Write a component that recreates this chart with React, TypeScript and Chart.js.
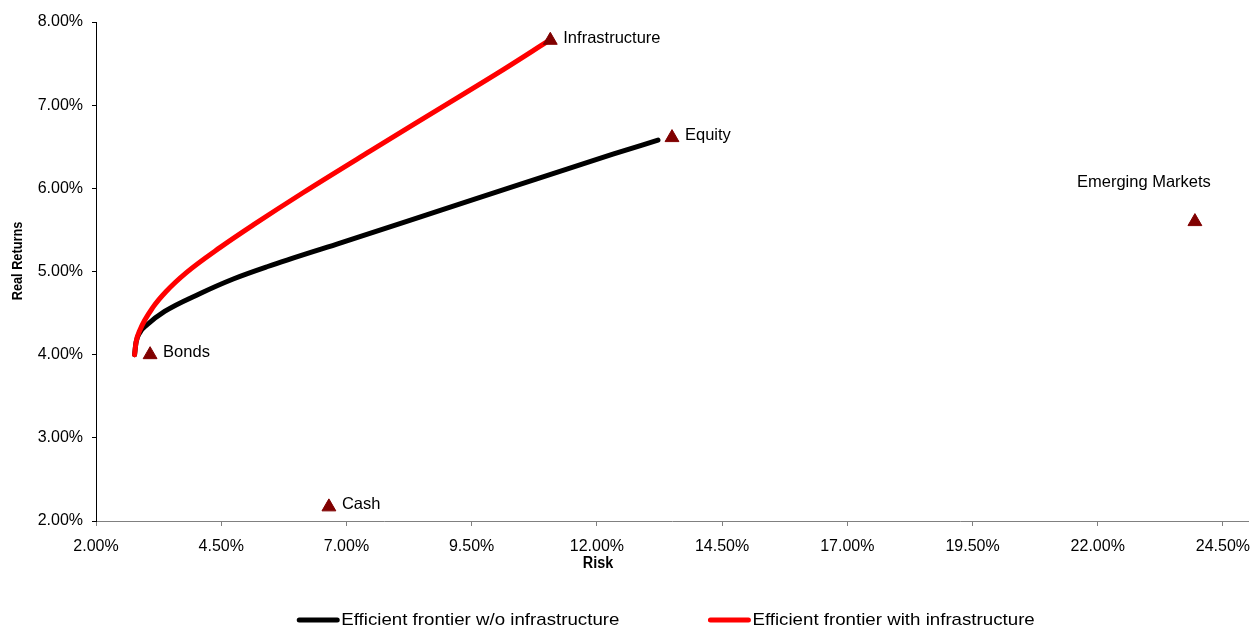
import { useEffect, useRef } from 'react';
import { Chart, registerables } from 'chart.js';

Chart.register(...registerables);

// Individual asset classes: risk (x, %) and real return (y, %)
const assetNames = ['Infrastructure', 'Equity', 'Emerging Markets', 'Bonds', 'Cash'];
const assetRisk = [11.07, 13.5, 23.94, 3.08, 6.65];
const assetReturn = [7.78, 6.61, 5.6, 4.0, 2.17];

// Efficient frontier without infrastructure
const frontierRiskWithout = [2.77, 2.8, 2.88, 3.02, 3.37, 4.06, 4.74, 5.43, 6.81, 8.19, 9.56, 10.94, 12.32, 13.22];
const frontierReturnWithout = [4.0, 4.15, 4.27, 4.36, 4.52, 4.73, 4.91, 5.06, 5.33, 5.6, 5.87, 6.14, 6.41, 6.58];

// Efficient frontier with infrastructure
const frontierRiskWith = [2.77, 2.8, 2.88, 3.15, 3.4, 3.81, 4.48, 5.14, 6.14, 7.48, 8.81, 10.14, 11.0];
const frontierReturnWith = [4.0, 4.15, 4.3, 4.58, 4.76, 4.99, 5.29, 5.56, 5.95, 6.45, 6.94, 7.43, 7.76];

const seriesLabels = ['Efficient frontier w/o infrastructure', 'Efficient frontier with infrastructure'];
const seriesColors = ['#000000', '#ff0000'];

const xTickValues = [2, 4.5, 7, 9.5, 12, 14.5, 17, 19.5, 22, 24.5];
const yTickStep = 1;

const FONT = '"Liberation Sans", Arial, sans-serif';
const pct = (v: number) => Number(v).toFixed(2) + '%';

function drawStretched(ctx: CanvasRenderingContext2D, text: string, x: number, y: number, sx: number) {
  ctx.save();
  ctx.translate(x, y);
  ctx.scale(sx, 1);
  ctx.fillText(text, 0, 0);
  ctx.restore();
}

const decorations = {
  id: 'decorations',
  afterDraw(chart: any) {
    const ctx: CanvasRenderingContext2D = chart.ctx;
    const xs = chart.scales.x;
    const ys = chart.scales.y;
    const area = chart.chartArea;
    ctx.save();

    // asset labels
    ctx.font = `16.5px ${FONT}`;
    ctx.fillStyle = '#000';
    ctx.textBaseline = 'middle';
    assetNames.forEach((name, i) => {
      const px = xs.getPixelForValue(assetRisk[i]);
      const py = ys.getPixelForValue(assetReturn[i]);
      if (name === 'Emerging Markets') {
        ctx.textAlign = 'center';
        ctx.fillText(name, px - 51, py - 39);
      } else {
        ctx.textAlign = 'left';
        ctx.fillText(name, px + 13, py - 2);
      }
    });

    // axis titles
    ctx.font = `bold 16px ${FONT}`;
    ctx.textAlign = 'center';
    drawStretched(ctx, 'Risk', 598, 564, 0.9);
    ctx.save();
    ctx.translate(18, 261);
    ctx.rotate(-Math.PI / 2);
    ctx.font = `bold 15px ${FONT}`;
    drawStretched(ctx, 'Real Returns', 0, 0, 0.85);
    ctx.restore();

    // legend
    const sx = 1.1;
    ctx.font = `17px ${FONT}`;
    ctx.textAlign = 'left';
    const lineLen = 42;
    const gap = 2;
    const itemGap = 89;
    const widths = seriesLabels.map((t) => ctx.measureText(t).width * sx);
    const total = widths.reduce((a, w) => a + lineLen + gap + w, 0) + itemGap * (seriesLabels.length - 1);
    let x = (area.left + area.right) / 2 - total / 2 - 6;
    const y = 620;
    seriesLabels.forEach((t, i) => {
      ctx.strokeStyle = seriesColors[i];
      ctx.lineWidth = 5;
      ctx.lineCap = 'round';
      ctx.beginPath();
      ctx.moveTo(x + 2, y);
      ctx.lineTo(x + lineLen - 2, y);
      ctx.stroke();
      ctx.fillStyle = '#000';
      drawStretched(ctx, t, x + lineLen + gap, y, sx);
      x += lineLen + gap + widths[i] + itemGap;
    });

    ctx.restore();
  },
};

export default function App() {
  const canvasRef = useRef<HTMLCanvasElement | null>(null);

  useEffect(() => {
    const canvas = canvasRef.current;
    if (!canvas) return;

    const toPoints = (xs: number[], ys: number[]) => xs.map((v, i) => ({ x: v, y: ys[i] }));

    const chart = new Chart(canvas, {
      type: 'scatter',
      data: {
        datasets: [
          {
            label: 'Assets',
            data: toPoints(assetRisk, assetReturn),
            pointStyle: 'triangle',
            pointRadius: 8,
            pointBackgroundColor: '#800000',
            pointBorderColor: '#800000',
            pointBorderWidth: 1,
            showLine: false,
            order: 0,
          },
          {
            label: seriesLabels[1],
            data: toPoints(frontierRiskWith, frontierReturnWith),
            showLine: true,
            borderColor: seriesColors[1],
            backgroundColor: seriesColors[1],
            borderWidth: 5,
            borderCapStyle: 'round',
            borderJoinStyle: 'round',
            pointRadius: 0,
            cubicInterpolationMode: 'monotone',
            order: 1,
          },
          {
            label: seriesLabels[0],
            data: toPoints(frontierRiskWithout, frontierReturnWithout),
            showLine: true,
            borderColor: seriesColors[0],
            backgroundColor: seriesColors[0],
            borderWidth: 5,
            borderCapStyle: 'round',
            borderJoinStyle: 'round',
            pointRadius: 0,
            cubicInterpolationMode: 'monotone',
            order: 2,
          },
        ],
      },
      options: {
        responsive: false,
        animation: false,
        layout: { autoPadding: false, padding: { top: 22, right: 4, left: 0, bottom: 0 } },
        plugins: {
          legend: { display: false },
          tooltip: { enabled: false },
          title: { display: false },
        },
        scales: {
          x: {
            type: 'linear',
            min: 2,
            max: 25,
            afterBuildTicks: (s: any) => {
              s.ticks = xTickValues.map((v) => ({ value: v }));
            },
            afterFit: (s: any) => {
              s.height = 107;
              s.paddingLeft = 0;
              s.paddingRight = 0;
            },
            ticks: {
              callback: (v: any) => pct(v),
              color: '#000',
              font: { family: FONT, size: 16 },
              padding: 11,
              maxRotation: 0,
              autoSkip: false,
            },
            grid: { drawOnChartArea: false, drawTicks: true, tickLength: 5, color: '#808080' },
            border: { color: '#808080', width: 1 },
          },
          y: {
            type: 'linear',
            min: 2,
            max: 8,
            afterFit: (s: any) => {
              s.width = 96;
              s.paddingTop = 0;
              s.paddingBottom = 0;
            },
            ticks: {
              stepSize: yTickStep,
              callback: (v: any) => pct(v),
              color: '#000',
              font: { family: FONT, size: 16 },
              padding: 9,
            },
            grid: { drawOnChartArea: false, drawTicks: true, tickLength: 4, color: '#000' },
            border: { color: '#000', width: 1 },
          },
        },
      },
      plugins: [decorations],
    });

    return () => chart.destroy();
  }, []);

  return (
    <div style={{ position: 'absolute', left: 0, top: 0, width: 1252, height: 628, background: '#fff' }}>
      <canvas ref={canvasRef} width={1252} height={628} />
    </div>
  );
}
